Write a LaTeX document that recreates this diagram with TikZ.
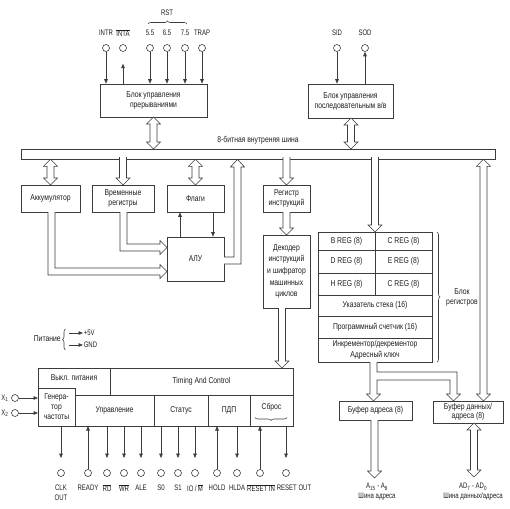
\documentclass[tikz,border=0pt]{standalone}
\usepackage{fontspec}
\setmainfont[FakeStretch=0.8]{Liberation Sans}
\newfontfamily\narrowf[FakeStretch=0.75]{Liberation Sans}
\usetikzlibrary{arrows.meta,decorations.pathreplacing,calc}
\definecolor{lc}{RGB}{60,60,60}
\definecolor{tc}{RGB}{30,30,30}
\newcommand\hDown[3]{\filldraw[hol] (#1-3.5,#2) -- (#1-3.5,#3-7) -- (#1-7,#3-7) -- (#1,#3) -- (#1+7,#3-7) -- (#1+3.5,#3-7) -- (#1+3.5,#2);}
\newcommand\hUp[3]{\filldraw[hol] (#1-3.5,#3) -- (#1-3.5,#2+7) -- (#1-7,#2+7) -- (#1,#2) -- (#1+7,#2+7) -- (#1+3.5,#2+7) -- (#1+3.5,#3);}
\newcommand\hBoth[3]{\filldraw[hol] (#1,#2) -- (#1+7,#2+7) -- (#1+3.5,#2+7) -- (#1+3.5,#3-7) -- (#1+7,#3-7) -- (#1,#3) -- (#1-7,#3-7) -- (#1-3.5,#3-7) -- (#1-3.5,#2+7) -- (#1-7,#2+7) -- cycle;}
\newcommand\ovl[1]{\ensuremath{\overline{\mbox{#1}}}}
\begin{document}
\begin{tikzpicture}[x=1pt,y=-1pt,line width=0.6pt,draw=lc,text=tc,
  every node/.style={font=\fontsize{8.5}{10}\selectfont,text=tc},
  box/.style={draw=lc,fill=white,align=center,inner sep=1pt},
  hol/.style={draw=lc,fill=white,line width=0.6pt},
  pinc/.style={circle,draw=lc,minimum size=7pt,inner sep=0pt},
  plab/.style={font=\narrowf\fontsize{8}{9.5}\selectfont,inner sep=0.5pt},
  arr/.style={draw=lc,-{Triangle[length=4.5pt,width=3.6pt]}},
  brc/.style={draw=lc,decorate,decoration={brace,amplitude=3pt}}]
\useasboundingbox (0,0) rectangle (510,508);

% ---------- top blocks ----------
\node[box,minimum width=107pt,minimum height=33pt] (ib) at (153.5,100.5) {Блок управления\\прерываниями};
\node[box,minimum width=85pt,minimum height=34pt] (sb) at (350.5,101) {Блок управления\\последовательным в/в};

% interrupt pins
\foreach \n/\x/\t in {intr/106/INTR, inta/123/\ovl{INTA}, r55/150/5.5, r65/167/6.5, r75/185/7.5, trap/202/TRAP}{
  \node[pinc] (p\n) at (\x,48) {};
  \node[plab] (l\n) at (\x,33) {\t};
}
\node[plab] (lrst) at (167,13) {RST};
\draw[brc] (148,24) -- (187,24);
\foreach \n in {intr,r55,r65,r75,trap}{\draw[arr] (p\n) -- (p\n |- ib.north);}
\draw[arr] (pinta |- ib.north) -- ++(0,-20);

% serial pins
\node[pinc] (psid) at (337,48) {};
\node[pinc] (psod) at (365,48) {};
\node[plab] (lsid) at (337,33) {SID};
\node[plab] (lsod) at (365,33) {SOD};
\draw[arr] (psid) -- (psid |- sb.north);
\draw[arr] (psod |- sb.north) -- (psod);

% ---------- bus ----------
\node (buslab) at (258,140) {8-битная внутреняя шина};
\draw[fill=white] (21,149) rectangle (495,159);
\hBoth{153.5}{117}{149}
\hBoth{351}{118}{149}

% ---------- middle boxes ----------
\node[box,minimum width=59pt,minimum height=27pt] (acc) at (50.5,198.5) {Аккумулятор};
\node[box,minimum width=62pt,minimum height=27pt] (tmp) at (123,198.5) {Временные\\регистры};
\node[box,minimum width=57pt,minimum height=27pt] (flg) at (195.5,198.5) {Флаги};
\node[box,minimum width=57pt,minimum height=44pt] (alu) at (195.5,259) {АЛУ};
\node[box,minimum width=47pt,minimum height=27pt] (ir) at (286.5,198.5) {Регистр\\инструкций};
\node[box,minimum width=47pt,minimum height=73pt,font=\fontsize{8.5}{11.6}\selectfont] (dec) at (286.5,271.5) {Декодер\\инструкций\\и шифратор\\машинных\\циклов};

% bus connections
\hBoth{50.5}{159.3}{185}
\hBoth{195.5}{159.3}{185}
\hDown{123}{157}{185}
\hDown{286.5}{157}{185}
\hDown{375}{157}{232}
\hBoth{483.5}{159.3}{401}
% ALU output up to bus
\filldraw[hol] (224,257) -- (234,257) -- (234,167) -- (230.5,167) -- (237.5,159.3) -- (244.5,167) -- (241,167) -- (241,264) -- (224,264);
% temp regs -> ALU
\filldraw[hol] (120,212) -- (120,251) -- (160,251) -- (160,254.5) -- (167,247.5) -- (160,240.5) -- (160,244) -- (127,244) -- (127,212);
% accumulator -> ALU
\filldraw[hol] (48,212) -- (48,275) -- (160,275) -- (160,278.5) -- (167,271.5) -- (160,264.5) -- (160,268) -- (55,268) -- (55,212);
% flags <-> ALU
\draw[arr] (alu.north -| 180,0) -- (flg.south -| 180,0);
\draw[arr] (flg.south -| 213,0) -- (alu.north -| 213,0);
% IR -> decoder
\hDown{286.5}{212}{235}
% decoder -> timing
\hDown{282}{308}{368}

% ---------- register block ----------
\draw (318,232) rectangle (432,362);
\foreach \y in {250,273,295,316,338}{\draw (318,\y) -- (432,\y);}
\draw (375,232) -- (375,295);
\node (rb) at (346.5,241) {B REG (8)};
\node (rc) at (403.5,241) {C REG (8)};
\node (rd) at (346.5,261.5) {D REG (8)};
\node (re) at (403.5,261.5) {E REG (8)};
\node (rh) at (346.5,284) {H REG (8)};
\node (rl) at (403.5,284) {C REG (8)};
\node (rsp) at (375,305.5) {Указатель стека (16)};
\node (rpc) at (375,327) {Программный счетчик (16)};
\node[align=center,font=\fontsize{8.5}{10.5}\selectfont] (rinc) at (375,350) {Инкрементор/декрементор\\Адресный ключ};
\draw[brc] (437,232) -- (437,362);
\node[align=center] (rblab) at (462,297) {Блок\\регистров};

% ---------- buffers ----------
\node[box,minimum width=73pt,minimum height=19pt] (ab) at (375.5,410.5) {Буфер адреса (8)};
\node[box,minimum width=70pt,minimum height=22pt,font=\fontsize{8.5}{9.5}\selectfont] (db) at (468,412) {Буфер данных/\\адреса (8)};
\filldraw[hol] (370,362) -- (370,394) -- (366.5,394) -- (373.5,401) -- (380.5,394) -- (377,394) -- (377,380) -- (450,380) -- (450,394) -- (446.5,394) -- (453.5,401) -- (460.5,394) -- (457,394) -- (457,372) -- (377,372) -- (377,362);
\hDown{374.5}{420}{478}
\hBoth{474}{423}{477}
\node[align=center,font=\narrowf\fontsize{8}{10}\selectfont,inner sep=0.5pt] (abl) at (377,492) {A\textsubscript{15} - A\textsubscript{8}\\Шина адреса};
\node[align=center,font=\narrowf\fontsize{8}{10}\selectfont,inner sep=0.5pt] (dbl) at (473,492) {AD\textsubscript{7} - AD\textsubscript{0}\\Шина данных/адреса};

% ---------- power ----------
\node[anchor=east,inner sep=1pt] (pw) at (62,339) {Питание};
\draw[brc] (65.5,350) -- (65.5,329);
\coordinate (pa) at (69,333);
\coordinate (pb) at (69,345);
\node[plab,anchor=west] (p5) at (83,333) {+5V};
\node[plab,anchor=west] (pg) at (83,345) {GND};
\draw[arr] (pa) -- (p5.west);
\draw[arr] (pb) -- (pg.west);

% ---------- timing block ----------
\draw (38,368) rectangle (293,426);
\draw (110,368) -- (110,395);
\draw (75,395) -- (293,395);
\draw (38,388) -- (75,388) -- (75,426);
\foreach \x in {154,208,250}{\draw (\x,395) -- (\x,426);}
\node (tpw) at (74,378) {Выкл. питания};
\node (ttc) at (201.5,381.5) {Timing And Control};
\node[align=center,font=\fontsize{8.5}{10}\selectfont] (tgen) at (56.5,407) {Генера-\\тор\\частоты};
\node (tctl) at (114.5,410.5) {Управление};
\node (tst) at (181,410.5) {Статус};
\node (tdma) at (229,410.5) {ПДП};
\node (trst) at (271.5,407) {Сброс};
\draw[brc] (287,417.5) -- (255,417.5);
\coordinate (tb) at (0,426);

% clock inputs
\node[pinc] (px1) at (15,398) {};
\node[pinc] (px2) at (15,413) {};
\node[plab] (lx1) at (5,398) {X\textsubscript{1}};
\node[plab] (lx2) at (5,413) {X\textsubscript{2}};
\draw[arr] (px1) -- (px1 -| 38,0);
\draw[arr] (px2) -- (px2 -| 38,0);

% bottom pins
\foreach \n/\x/\lx/\t in {clk/61/61/CLK, rdy/88/88/READY, rd/107/107/\ovl{RD}, wr/124/124/\ovl{WR}, ale/141/141/ALE, s0/161/161/S0, s1/178/178/S1, iom/195/195/{IO\,/\,\ovl{M}}, hold/217/217/HOLD, hlda/237/237/HLDA, rsi/260/261/\ovl{RESET IN}, rso/286/294/RESET OUT}{
  \node[pinc] (p\n) at (\x,473) {};
  \node[plab] (l\n) at (\lx,488) {\t};
}
\node[plab] (lclk2) at (61,498) {OUT};
\foreach \n in {clk,rd,wr,ale,s0,s1,iom,hlda,rso}{\draw[arr] (p\n |- tb) -- ++(0,32);}
\foreach \n in {rdy,hold,rsi}{\draw[arr] (p\n) -- (p\n |- tb);}
\end{tikzpicture}
\end{document}
